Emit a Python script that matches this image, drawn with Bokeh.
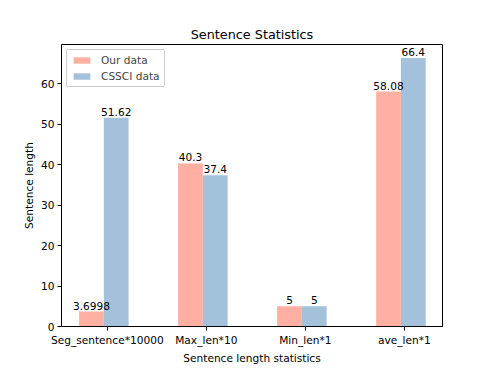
from bokeh.plotting import figure
from bokeh.models import Range1d, FixedTicker, ColumnDataSource, Legend, LegendItem
from bokeh.embed import file_html
from bokeh.resources import INLINE
from bokeh.core.properties import value

categories = ["Seg_sentence*10000", "Max_len*10", "Min_len*1", "ave_len*1"]
our_data = [3.6998, 40.3, 5, 58.08]
cssci_data = [51.62, 37.4, 5, 66.4]
y_ticks = [0, 10, 20, 30, 40, 50, 60]

FONT = "DejaVu Sans"
PINK = "#FFB0A2"
BLUE = "#A3C1DA"
BAR_W = 0.25

idx = list(range(len(categories)))
x_our = [i - 0.16 for i in idx]
x_cssci = [i + 0.09 for i in idx]

p = figure(width=488, height=366, output_backend="svg", toolbar_location=None,
           x_range=Range1d(-0.4625, 3.385), y_range=Range1d(0, 69.72),
           min_border_left=61, min_border_right=46, min_border_top=44, min_border_bottom=39)
p.border_fill_color = "white"
p.background_fill_color = "white"

p.title.text = "Sentence Statistics"
p.title.align = "center"
p.title.text_font = FONT
p.title.text_font_size = "12.8px"
p.title.text_font_style = "normal"
p.title.text_color = "black"
p.title.offset = 0
p.title.standoff = 6

src_o = ColumnDataSource(dict(x=x_our, top=our_data, lab=[f"{v:g}" for v in our_data]))
src_c = ColumnDataSource(dict(x=x_cssci, top=cssci_data, lab=[f"{v:g}" for v in cssci_data]))

r1 = p.vbar(x="x", top="top", width=BAR_W, bottom=0, source=src_o, fill_color=PINK, line_color=None)
r2 = p.vbar(x="x", top="top", width=BAR_W, bottom=0, source=src_c, fill_color=BLUE, line_color=None)

for s in (src_o, src_c):
    p.text(x="x", y="top", text="lab", source=s, text_align="center", text_baseline="bottom",
           text_font=value(FONT), text_font_size="10.6px", text_color="black", y_offset=-2)

p.grid.visible = False
p.outline_line_color = "black"
p.outline_line_width = 1

p.xaxis.ticker = FixedTicker(ticks=idx)
p.xaxis.major_label_overrides = {i: c for i, c in zip(idx, categories)}
p.yaxis.ticker = FixedTicker(ticks=y_ticks)
for ax in (p.xaxis[0], p.yaxis[0]):
    ax.major_tick_in = 0
    ax.major_tick_out = 4
    ax.minor_tick_in = 0
    ax.minor_tick_out = 0
    ax.major_label_text_font = FONT
    ax.major_label_text_font_size = "10.6px"
    ax.major_label_text_color = "black"
    ax.axis_label_text_font = FONT
    ax.axis_label_text_font_size = "10.6px"
    ax.axis_label_text_font_style = "normal"
    ax.axis_label_text_color = "black"
    ax.axis_line_color = "black"
    ax.major_tick_line_color = "black"
    ax.major_label_standoff = 3
    ax.axis_label_standoff = 3

p.xaxis.axis_label = "Sentence length statistics"
p.yaxis.axis_label = "Sentence length"

legend = Legend(items=[LegendItem(label="Our data", renderers=[r1]),
                       LegendItem(label="CSSCI data", renderers=[r2])],
                location="top_left")
legend.label_text_font = FONT
legend.label_text_font_size = "10.6px"
legend.glyph_width = 21
legend.glyph_height = 8
legend.label_height = 12
legend.spacing = 4
legend.padding = 4
legend.margin = 5
legend.label_standoff = 9
legend.border_line_color = "#cccccc"
legend.border_line_alpha = 1
legend.border_radius = 2
legend.background_fill_alpha = 0.8
p.add_layout(legend)

open("out.html", "w").write(file_html(p, INLINE))
